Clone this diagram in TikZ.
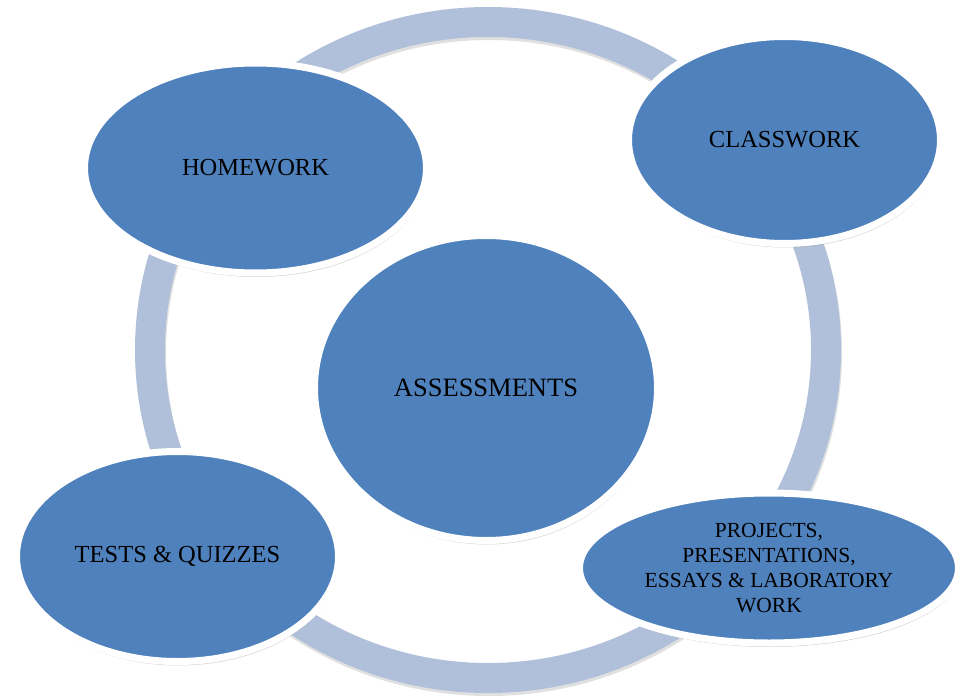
\documentclass[tikz,border=0pt]{standalone}
\usepackage{fontspec}
\setmainfont{Liberation Serif}
\usetikzlibrary{shapes,shadows}
\definecolor{bubbleblue}{RGB}{79,129,189}
\definecolor{ringblue}{RGB}{176,192,218}

\begin{document}
\begin{tikzpicture}[x=1pt,y=-1pt,
    bubble/.style={ellipse,draw=white,line width=7pt,fill=bubbleblue,inner sep=0pt,align=center,
      font=\fontsize{24.5}{25}\selectfont,
      drop shadow={shadow xshift=1pt,shadow yshift=-4pt,opacity=0.35,fill=black!50}}]
      \useasboundingbox (0,0) rectangle (955,698);
      % ring behind the bubbles
      \draw[line width=30pt,black!30,opacity=0.4] (489,353) ellipse [x radius=338,y radius=328];
      \draw[line width=30pt,ringblue] (488,350) ellipse [x radius=338,y radius=328];
      % Homework
      \node[bubble,minimum width=342pt,minimum height=210pt] (homework) at (255.5,168) {HOMEWORK};
      % Classwork
      \node[bubble,minimum width=312pt,minimum height=207pt] (classwork) at (784.5,140) {CLASSWORK};
      % Tests & quizzes
      \node[bubble,minimum width=322pt,minimum height=210pt] (tests) at (177.5,556.5) {TESTS \& QUIZZES};
      % Projects etc.
      \node[bubble,minimum width=379pt,minimum height=150pt,font=\fontsize{21.5}{25}\selectfont] (projects) at (769,568)
        {PROJECTS,\\PRESENTATIONS,\\ESSAYS \& LABORATORY\\WORK};
      % Assessments in the middle
      \node[bubble,minimum width=343pt,minimum height=305pt,font=\fontsize{26.5}{28}\selectfont] (assessments) at (486,388) {ASSESSMENTS};
    \end{tikzpicture}
\end{document}
